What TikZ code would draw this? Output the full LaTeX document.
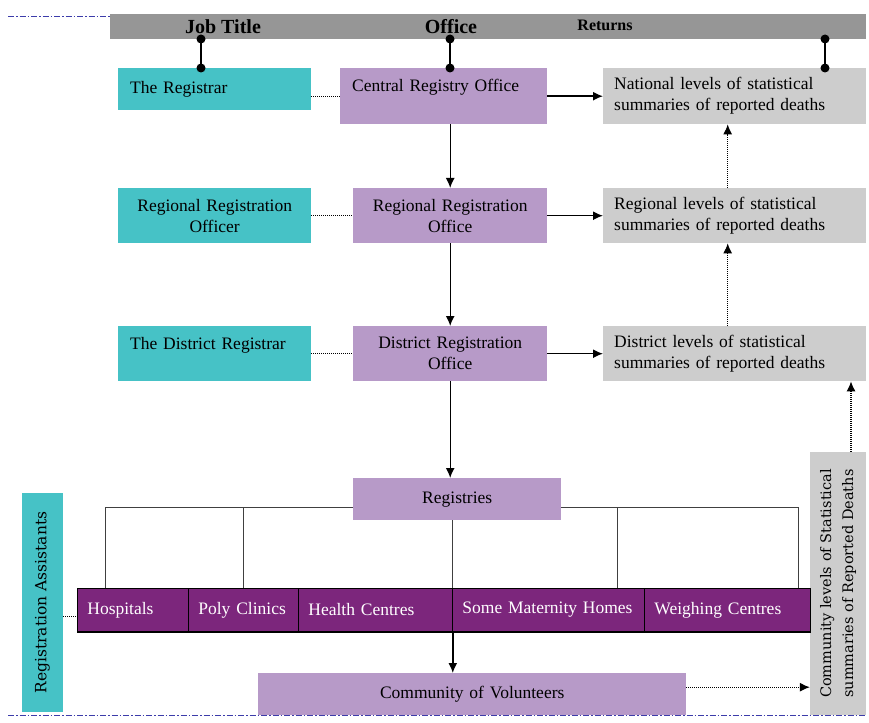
\documentclass[tikz,border=0pt]{standalone}
\usepackage{fontspec}
\setmainfont{Liberation Serif}
\newfontfamily\rotfont{DejaVu Serif}
\usetikzlibrary{arrows.meta}

\definecolor{tealc}{RGB}{70,194,198}
\definecolor{lilac}{RGB}{183,154,200}
\definecolor{greyc}{RGB}{205,205,205}
\definecolor{hdrgray}{RGB}{150,150,150}
\definecolor{plum}{RGB}{124,38,124}
\definecolor{dashblue}{RGB}{60,60,170}

\begin{document}
\begin{tikzpicture}[x=1pt,y=-1pt,
    box/.style={anchor=north west, inner xsep=12pt, inner ysep=0pt, font=\fontsize{17.5}{21}\selectfont},
    tealnode/.style={box, fill=tealc},
    purplenode/.style={box, fill=lilac},
    graynode/.style={box, fill=greyc, inner xsep=11pt},
    cellnode/.style={box, fill=plum, draw=black, line width=0.8pt, text=white, inner xsep=10pt, minimum height=43pt, align=left},
    headlabel/.style={font=\bfseries\fontsize{20}{22}\selectfont},
    solidarrow/.style={-{Latex[length=10pt,width=9pt]}, line width=1.4pt},
    dotarrow/.style={-{Latex[length=10pt,width=9pt]}, dash pattern=on 1pt off 1pt, line width=1.1pt},
    dotline/.style={dash pattern=on 1pt off 1pt, line width=1.1pt},
    tree/.style={line width=0.7pt, black!75},
    pinline/.style={line width=1.4pt},
    dashline/.style={dash pattern=on 6pt off 2pt on 1.5pt off 2pt, line width=0.9pt, dashblue}]
  \useasboundingbox (0,0) rectangle (869,722);

  % header bar
  \draw[dashline] (8,16) -- (866,16);
  \node[fill=hdrgray, anchor=north west, minimum width=756pt, minimum height=25pt, inner sep=0pt] (hdr) at (110,14) {};
  \node[headlabel] (hjob) at (223,27) {Job Title};
  \node[headlabel] (hoff) at (451,27) {Office};
  \node[font=\bfseries\fontsize{16}{18}\selectfont] (hret) at (605,25) {Returns};

  % job titles
  \node[tealnode, text width=169pt, minimum height=42pt, align=left] (reg) at (118,68) {The Registrar};
  \node[tealnode, text width=169pt, minimum height=55pt, align=center] (rro) at (118,188) {Regional Registration\\Officer};
  \node[tealnode, text width=169pt, minimum height=55pt, align=left] (dr) at (118,326) {The District Registrar\\\mbox{}};

  % offices
  \node[purplenode, text width=183pt, minimum height=56pt, align=left] (cro) at (340,68) {Central Registry Office\\\mbox{}};
  \node[purplenode, text width=170pt, minimum height=55pt, align=center] (rgo) at (353,188) {Regional Registration\\Office};
  \node[purplenode, text width=170pt, minimum height=55pt, align=center] (dro) at (353,326) {District Registration\\Office};
  \node[purplenode, text width=184pt, minimum height=42pt, align=center] (regs) at (353,478) {Registries};
  \node[purplenode, text width=404pt, minimum height=42pt, align=center] (cov) at (258,673) {Community of Volunteers};

  % returns
  \node[graynode, text width=241pt, minimum height=56pt, align=left] (nat) at (603,68) {National levels of statistical\\summaries of reported deaths};
  \node[graynode, text width=241pt, minimum height=55pt, align=left] (rgl) at (603,188) {Regional levels of statistical\\summaries of reported deaths};
  \node[graynode, text width=241pt, minimum height=55pt, align=left] (dst) at (603,326) {District levels of statistical\\summaries of reported deaths};
  \node[fill=greyc, rotate=90, minimum width=263pt, minimum height=56pt, inner sep=0pt, align=center, font=\rotfont\fontsize{14.5}{22}\selectfont] (com) at (838,583.5) {Community levels of Statistical\\summaries of Reported Deaths};

  % registration points
  \node[fill=tealc, rotate=90, minimum width=219pt, minimum height=41pt, inner sep=0pt, font=\rotfont\fontsize{15.5}{17}\selectfont] (ra) at (42.5,602.5) {Registration Assistants};
  \node[cellnode, text width=91pt] (hos) at (77,588) {Hospitals};
  \node[cellnode, text width=90pt] (pol) at (188,588) {Poly Clinics};
  \node[cellnode, text width=134pt] (hea) at (298,588) {Health Centres};
  \node[cellnode, text width=172pt] (mat) at (452,588) {Some Maternity Homes};
  \node[cellnode, text width=146pt] (wei) at (644,588) {Weighing Centres};
  \draw[line width=1.6pt] (hos.south west) -- (wei.south east);

  % pins to header
  \foreach \x/\b in {201/reg,450/cro,825/nat}{
    \coordinate (pintop) at (\x,39);
    \draw[pinline] (pintop) -- (pintop |- \b.north);
    \fill (pintop) circle (4.5pt) (pintop |- \b.north) circle (4.5pt);
  }

  % job title to office
  \draw[dotline] (reg.east |- cro.west) -- (cro.west);
  \draw[dotline] (rro.east) -- (rgo.west);
  \draw[dotline] (dr.east) -- (dro.west);
  \coordinate (hosin) at ([yshift=-7pt]hos.west);
  \draw[dotline] (hosin -| ra.south) -- (hosin);

  % office to returns
  \draw[solidarrow] (cro.east) -- (nat.west);
  \draw[solidarrow] (rgo.east) -- (rgl.west);
  \draw[solidarrow] (dro.east) -- (dst.west);

  % down the offices
  \draw[solidarrow] (rgo.north |- cro.south) -- (rgo.north);
  \draw[solidarrow] (rgo.south) -- (dro.north);
  \draw[solidarrow] (dro.south) -- (dro.south |- regs.north);
  \draw[solidarrow] (hea.south east) -- (hea.south east |- cov.north);

  % returns upwards
  \draw[dotarrow] ([xshift=-7pt]rgl.north) -- ([xshift=-7pt]nat.south);
  \draw[dotarrow] ([xshift=-7pt]dst.north) -- ([xshift=-7pt]rgl.south);
  \coordinate (comup) at ([xshift=13pt]com.east);
  \draw[dotarrow] (comup) -- (comup |- dst.south);
  \coordinate (covout) at ([yshift=7pt]cov.east);
  \draw[dotarrow] (covout) -- (covout -| com.north);

  % registries tree
  \coordinate (jl) at ([yshift=-8pt]regs.west);
  \coordinate (jr) at ([yshift=-8pt]regs.east);
  \coordinate (b4) at ([xshift=-27pt]wei.north west);
  \draw[tree] (jl) -| ([xshift=28pt]hos.north west);
  \draw[tree] (pol.north |- jl) -- (pol.north);
  \draw[tree] (jr) -| ([xshift=-12pt]wei.north east);
  \draw[tree] (b4 |- jr) -- (b4);
  \draw[tree] (hea.north east |- regs.south) -- (hea.north east);

  \draw[dashline] (8,715) -- (866,715);
\end{tikzpicture}
\end{document}
